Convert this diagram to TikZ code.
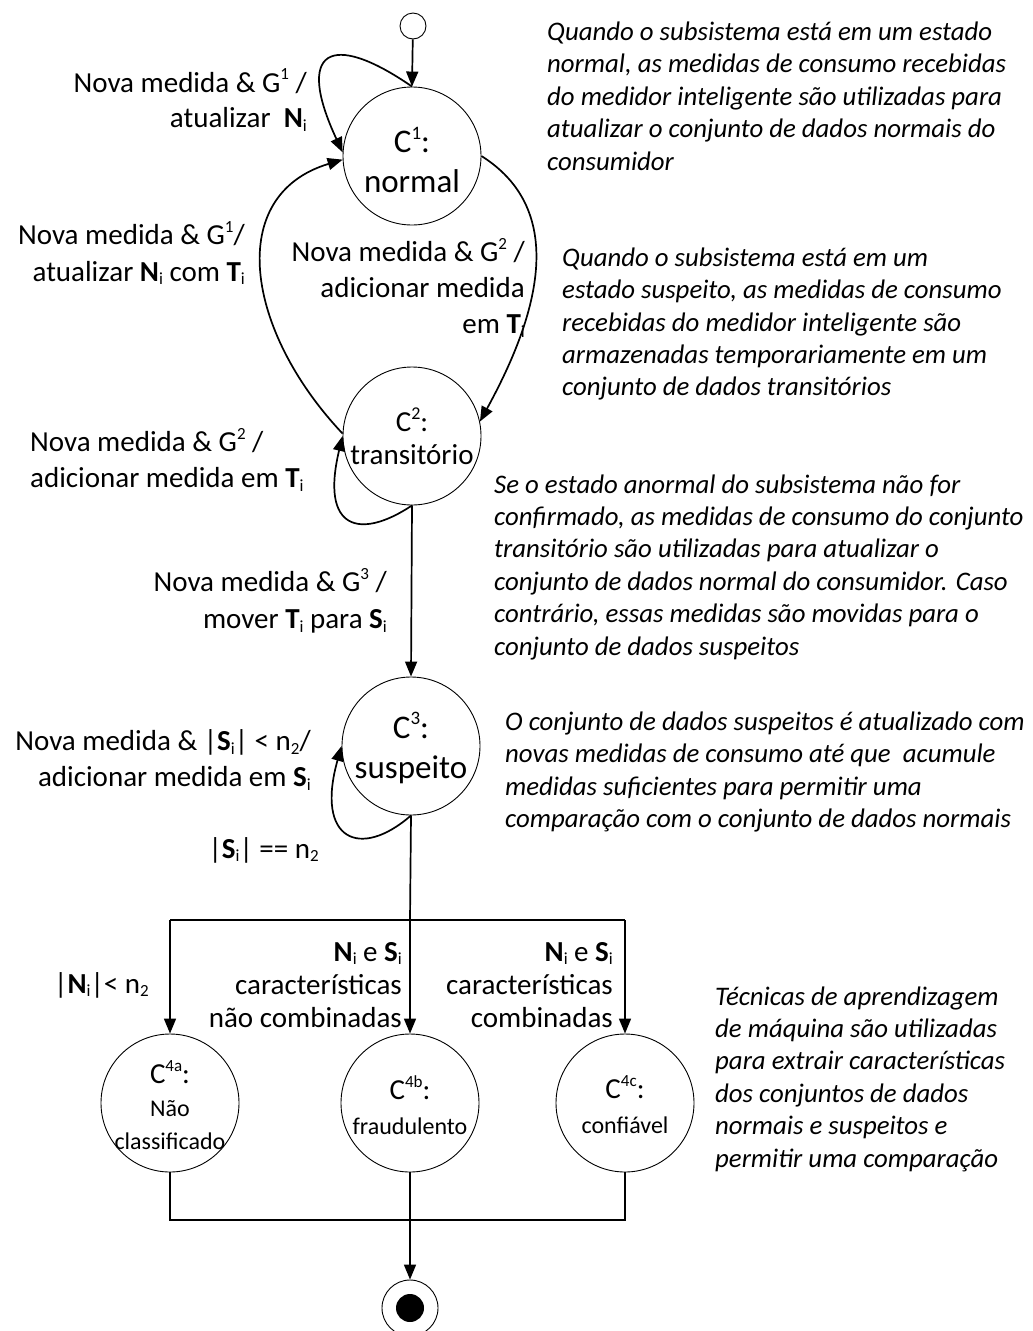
\documentclass[tikz,border=0pt]{standalone}
\usepackage{fontspec}
\setmainfont{Carlito}
\usetikzlibrary{arrows.meta}
\newcommand\supx[2][17]{\raisebox{0.42em}{\fontsize{#1}{#1}\selectfont #2}}
\newcommand\subx[2][17]{\raisebox{-0.12em}{\fontsize{#1}{#1}\selectfont #2}}
\begin{document}
\begin{tikzpicture}[x=1pt,y=-1pt,
  state/.style={circle,draw,line width=0.9pt,minimum size=138pt,inner sep=0pt},
  stxt/.style={align=center,inner sep=0pt},
  lbl/.style={font=\fontsize{29}{35.5}\selectfont,inner sep=0pt},
  para/.style={font=\fontsize{26.8}{32.4}\selectfont\itshape,align=left,inner sep=0pt,anchor=west},
  arr/.style={line width=1.7pt,-{Triangle[length=15pt,width=12pt]}},
  ln/.style={line width=1.7pt}]
\useasboundingbox (0,0) rectangle (1033,1331);
% states
\node[circle,draw,line width=0.9pt,minimum size=26pt,inner sep=0pt] (init) at (413,26) {};
\node[state] (C1) at (412,156) {};
\node[state] (C2) at (412,436) {};
\node[state] (C3) at (411,746) {};
\node[state] (C4a) at (170,1103) {};
\node[state] (C4b) at (410,1103) {};
\node[state] (C4c) at (625,1103) {};
\node[circle,draw,line width=0.9pt,minimum size=56pt,inner sep=0pt] (fin) at (410,1308) {};
\node[circle,fill=black,minimum size=28pt,inner sep=0pt] (finin) at (fin) {};
% state texts
\node[stxt,font=\fontsize{33}{40}\selectfont] (t1) at (412,160) {C\supx[19]{1}:\\normal};
\node[stxt,font=\fontsize{29}{33}\selectfont] (t2) at (412,436) {C\supx[18]{2}:\\transitório};
\node[stxt,font=\fontsize{33}{40}\selectfont] (t3) at (411,748) {C\supx[19]{3}:\\suspeito};
\node[stxt,font=\fontsize{24}{33}\selectfont] (t4a) at (170,1105) {{\fontsize{29}{33}\selectfont C\supx[17]{4a}:}\\Não\\classificado};
\node[stxt,font=\fontsize{24}{35}\selectfont] (t4b) at (410,1105) {{\fontsize{29}{35}\selectfont C\supx[17]{4b}:}\\fraudulento};
\node[stxt,font=\fontsize{24}{35}\selectfont] (t4c) at (625,1105) {{\fontsize{29}{35}\selectfont C\supx[17]{4c}:}\\confiável};
% junction coordinates
\coordinate (jL) at (170,920);
\coordinate (jM) at (410,920);
\coordinate (jR) at (625,920);
\coordinate (bL) at (170,1220);
\coordinate (bM) at (410,1220);
\coordinate (bR) at (625,1220);
% connectors
\draw[arr] (init) -- (C1.north);
\draw[arr] (C1.north) .. controls (330,30) and (295,50) .. (C1.177);
\draw[arr] (C2.178) .. controls (245,330) and (225,195) .. (C1.183);
\draw[arr] (C1.east) .. controls (575,215) and (530,330) .. (C2.12);
\draw[arr] (C2.south) .. controls (360,540) and (320,530) .. (C2.west);
\draw[arr] (C2.south) -- (C3.north);
\draw[arr] (C3.south) .. controls (360,860) and (315,840) .. (C3.west);
\draw[ln] (C3.south) -- (jM);
\draw[ln] (jL) -- (jR);
\draw[arr] (jL) -- (C4a.north);
\draw[arr] (jM) -- (C4b.north);
\draw[arr] (jR) -- (C4c.north);
\draw[ln] (C4a.south) -- (bL) -- (bR) -- (C4c.south);
\draw[arr] (C4b.south) -- (fin.north);
% transition labels
\node[lbl,align=right,anchor=east] (l1) at (307,100) {Nova medida \& G\supx{1} /\\atualizar~ \textbf{N}\subx{i}};
\node[lbl,align=right,anchor=east,font=\fontsize{29}{37}\selectfont] (l2) at (245,253) {Nova medida \& G\supx{1}/\\atualizar \textbf{N}\subx{i} com \textbf{T}\subx{i}};
\node[lbl,align=right,anchor=east,font=\fontsize{29}{36}\selectfont] (l3) at (525,288) {Nova medida \& G\supx{2} /\\adicionar medida\\em \textbf{T}\subx{i}};
\node[lbl,align=left,anchor=west,font=\fontsize{29}{36}\selectfont] (l4) at (30,460) {Nova medida \& G\supx{2} /\\adicionar medida em \textbf{T}\subx{i}};
\node[lbl,align=right,anchor=east,font=\fontsize{29}{37}\selectfont] (l5) at (387,601) {Nova medida \& G\supx{3} /\\mover \textbf{T}\subx{i} para \textbf{S}\subx{i}};
\node[lbl,align=right,anchor=east,font=\fontsize{29}{36}\selectfont] (l6) at (311,760) {Nova medida \& |\textbf{S}\subx{i}| < n\subx{2}/\\adicionar medida em \textbf{S}\subx{i}};
\node[lbl,anchor=east] (l7) at (319,850) {|\textbf{S}\subx{i}| == n\subx{2}};
\node[lbl,anchor=east] (l8) at (149,985) {|\textbf{N}\subx{i}|< n\subx{2}};
\node[lbl,align=right,anchor=east,font=\fontsize{29}{33}\selectfont] (l9) at (402,985) {\textbf{N}\subx{i} e \textbf{S}\subx{i}\\características\\não combinadas};
\node[lbl,align=right,anchor=east,font=\fontsize{29}{33}\selectfont] (l10) at (613,985) {\textbf{N}\subx{i} e \textbf{S}\subx{i}\\características\\combinadas};
% notes
\node[para] (p1) at (547,96) {Quando o subsistema está em um estado\\normal, as medidas de consumo recebidas\\do medidor inteligente são utilizadas para\\atualizar o conjunto de dados normais do\\consumidor};
\node[para] (p2) at (562,324) {Quando o subsistema está em um\\estado suspeito, as medidas de consumo\\recebidas do medidor inteligente são\\armazenadas temporariamente em um\\conjunto de dados transitórios};
\node[para] (p3) at (494,567) {Se o estado anormal do subsistema não for\\confirmado, as medidas de consumo do conjunto\\transitório são utilizadas para atualizar o\\conjunto de dados normal do consumidor. Caso\\contrário, essas medidas são movidas para o\\conjunto de dados suspeitos};
\node[para] (p4) at (505,772) {O conjunto de dados suspeitos é atualizado com\\novas medidas de consumo até que~ acumule\\medidas suficientes para permitir uma\\comparação com o conjunto de dados normais};
\node[para] (p5) at (715,1079) {Técnicas de aprendizagem\\de máquina são utilizadas\\para extrair características\\dos conjuntos de dados\\normais e suspeitos e\\permitir uma comparação};
\end{tikzpicture}
\end{document}
